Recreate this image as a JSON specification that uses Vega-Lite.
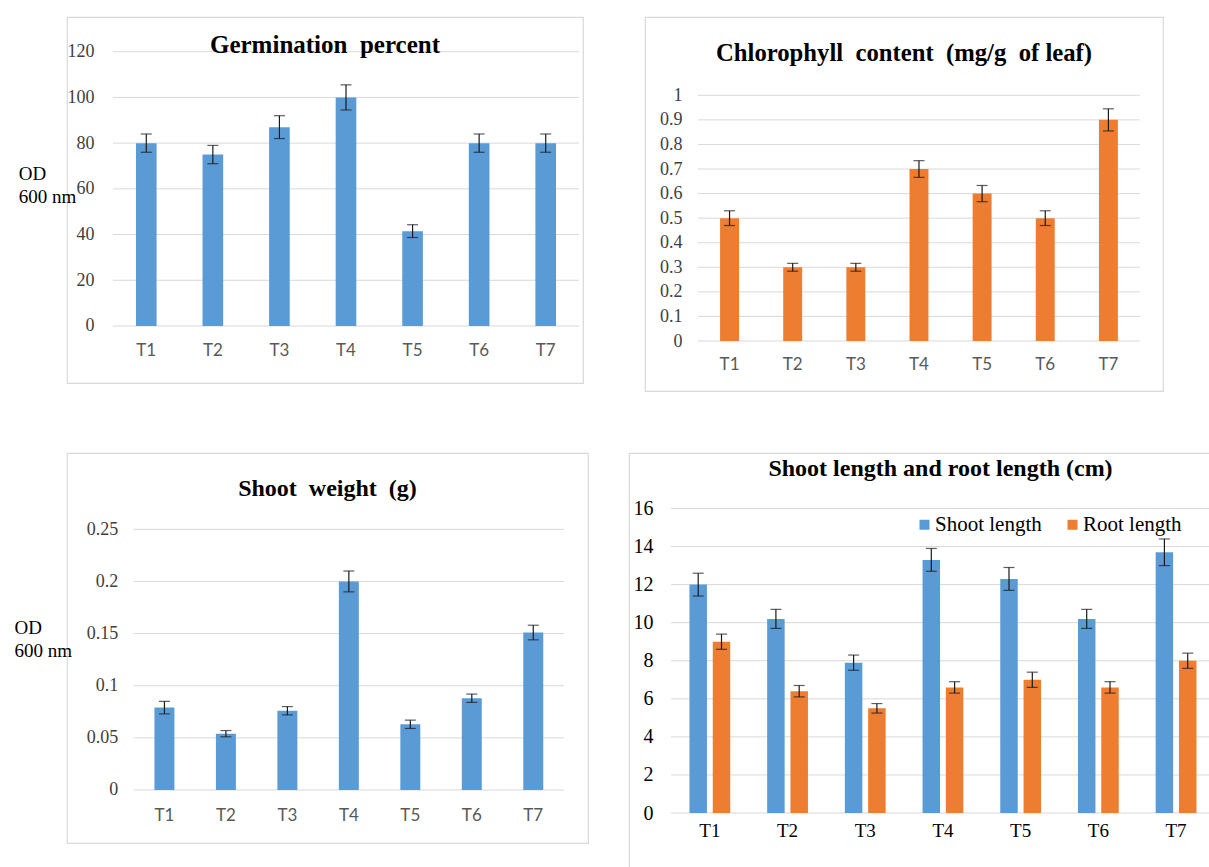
{
  "$schema": "https://vega.github.io/schema/vega-lite/v6.json",
  "background": "white",
  "padding": {"left": 13, "top": 16, "right": 0, "bottom": 0},
  "spacing": 60,
  "resolve": {"scale": {"color": "independent"}},
  "config": {
    "view": {"stroke": "#d9d9d9", "strokeWidth": 1.2},
    "axis": {"grid": false, "domain": false, "ticks": false, "tickSize": 0, "labelOverlap": false},
    "axisX": {"labelFont": "Lato", "labelFontSize": 17, "labelColor": "#595959", "labelAngle": 0, "labelBaseline": "middle", "labelOverlap": false},
    "axisY": {"labelFont": "Liberation Serif", "labelFontSize": 18, "labelColor": "#404040", "format": "~r", "labelOverlap": false},
    "title": {"font": "Liberation Serif", "fontSize": 24, "fontWeight": "bold", "color": "black", "anchor": "middle", "frame": "group", "baseline": "middle"}
  },
  "datasets": {
    "germ": [
      {"t": "T1", "v": 80, "e": 4},
      {"t": "T2", "v": 75, "e": 4},
      {"t": "T3", "v": 87, "e": 5},
      {"t": "T4", "v": 100, "e": 5.5},
      {"t": "T5", "v": 41.5, "e": 2.8},
      {"t": "T6", "v": 80, "e": 4},
      {"t": "T7", "v": 80, "e": 4}
    ],
    "chl": [
      {"t": "T1", "v": 0.5, "e": 0.03},
      {"t": "T2", "v": 0.3, "e": 0.016},
      {"t": "T3", "v": 0.3, "e": 0.016},
      {"t": "T4", "v": 0.7, "e": 0.034},
      {"t": "T5", "v": 0.6, "e": 0.033},
      {"t": "T6", "v": 0.5, "e": 0.03},
      {"t": "T7", "v": 0.9, "e": 0.045}
    ],
    "sw": [
      {"t": "T1", "v": 0.079, "e": 0.006},
      {"t": "T2", "v": 0.054, "e": 0.003},
      {"t": "T3", "v": 0.076, "e": 0.004},
      {"t": "T4", "v": 0.2, "e": 0.01},
      {"t": "T5", "v": 0.063, "e": 0.004},
      {"t": "T6", "v": 0.088, "e": 0.004},
      {"t": "T7", "v": 0.151, "e": 0.007}
    ],
    "len": [
      {"t": "T1", "s": "Shoot length", "v": 12, "e": 0.6},
      {"t": "T1", "s": "Root length", "v": 9, "e": 0.4},
      {"t": "T2", "s": "Shoot length", "v": 10.2, "e": 0.5},
      {"t": "T2", "s": "Root length", "v": 6.4, "e": 0.3},
      {"t": "T3", "s": "Shoot length", "v": 7.9, "e": 0.4},
      {"t": "T3", "s": "Root length", "v": 5.5, "e": 0.25},
      {"t": "T4", "s": "Shoot length", "v": 13.3, "e": 0.6},
      {"t": "T4", "s": "Root length", "v": 6.6, "e": 0.3},
      {"t": "T5", "s": "Shoot length", "v": 12.3, "e": 0.6},
      {"t": "T5", "s": "Root length", "v": 7.0, "e": 0.4},
      {"t": "T6", "s": "Shoot length", "v": 10.2, "e": 0.5},
      {"t": "T6", "s": "Root length", "v": 6.6, "e": 0.3},
      {"t": "T7", "s": "Shoot length", "v": 13.7, "e": 0.7},
      {"t": "T7", "s": "Root length", "v": 8.0, "e": 0.4}
    ],
    "g1": [{"v": 0}, {"v": 20}, {"v": 40}, {"v": 60}, {"v": 80}, {"v": 100}, {"v": 120}],
    "g2": [{"v": 0}, {"v": 0.1}, {"v": 0.2}, {"v": 0.3}, {"v": 0.4}, {"v": 0.5}, {"v": 0.6}, {"v": 0.7}, {"v": 0.8}, {"v": 0.9}, {"v": 1}],
    "g3": [{"v": 0}, {"v": 0.05}, {"v": 0.1}, {"v": 0.15}, {"v": 0.2}, {"v": 0.25}],
    "g4": [{"v": 0}, {"v": 2}, {"v": 4}, {"v": 6}, {"v": 8}, {"v": 10}, {"v": 12}, {"v": 14}, {"v": 16}]
  },
  "vconcat": [
    {
      "hconcat": [
        {
          "width": 516, "height": 366,
          "title": {"text": "Germination\u00a0 percent", "offset": -41, "fontSize": 25},
          "layer": [
            {"data": {"name": "g1"}, "mark": {"type": "rule", "color": "#d9d9d9", "strokeWidth": 1},
             "encoding": {"y": {"field": "v", "type": "quantitative", "title": ["OD", "600 nm"]}, "x": {"datum": "T1", "bandPosition": 0, "title": null}, "x2": {"datum": "T7", "bandPosition": 1}}},
            {"data": {"name": "germ"}, "mark": {"type": "bar", "color": "#5b9bd5", "width": {"band": 0.31}},
             "encoding": {
               "x": {"field": "t", "type": "nominal", "title": null, "scale": {"paddingInner": 0, "paddingOuter": 0.3755, "align": 0.92}, "axis": {"offset": -57, "labelPadding": 24}},
               "y": {"field": "v", "type": "quantitative", "title": ["OD", "600 nm"], "scale": {"domain": [-24.94, 135.18], "nice": false, "zero": false},
                     "axis": {"values": [0, 20, 40, 60, 80, 100, 120], "tickCount": 20, "offset": -46, "labelPadding": 19, "titleAngle": 0, "titleAlign": "left", "titleBaseline": "top", "titleX": -94.7, "titleY": 147, "titleFont": "Liberation Serif", "titleFontSize": 19, "titleFontWeight": "normal", "titleColor": "black", "titleLineHeight": 23}}
             }},
            {"data": {"name": "germ"}, "mark": {"type": "errorbar", "color": "#1a1a1a", "thickness": 1.2, "ticks": {"size": 11}},
             "encoding": {"x": {"field": "t", "type": "nominal", "title": null}, "y": {"field": "v", "type": "quantitative", "title": ["OD", "600 nm"]}, "yError": {"field": "e"}}}
          ]
        },
        {
          "width": 518, "height": 374,
          "title": {"text": "Chlorophyll\u00a0 content\u00a0 (mg/g\u00a0 of leaf)", "offset": -49, "fontSize": 24.7},
          "layer": [
            {"data": {"name": "g2"}, "mark": {"type": "rule", "color": "#d9d9d9", "strokeWidth": 1},
             "encoding": {
               "y": {"field": "v", "type": "quantitative", "title": null, "scale": {"domain": [-0.2035, 1.3187], "nice": false, "zero": false},
                     "axis": {"values": [0, 0.1, 0.2, 0.3, 0.4, 0.5, 0.6, 0.7, 0.8, 0.9, 1], "tickCount": 20, "offset": -53, "labelPadding": 16}},
               "x": {"datum": "T1", "bandPosition": 0, "title": null}, "x2": {"datum": "T7", "bandPosition": 1}}},
            {"data": {"name": "chl"}, "mark": {"type": "bar", "color": "#ed7d31", "width": {"band": 0.3}},
             "encoding": {
               "x": {"field": "t", "type": "nominal", "title": null, "scale": {"paddingInner": 0, "paddingOuter": 0.6018, "align": 0.697}, "axis": {"offset": -50, "labelPadding": 23}},
               "y": {"field": "v", "type": "quantitative", "title": null}
             }},
            {"data": {"name": "chl"}, "mark": {"type": "errorbar", "color": "#1a1a1a", "thickness": 1.2, "ticks": {"size": 11}},
             "encoding": {"x": {"field": "t", "type": "nominal", "title": null}, "y": {"field": "v", "type": "quantitative", "title": null}, "yError": {"field": "e"}}}
          ]
        }
      ],
      "spacing": 62,
      "bounds": "flush"
    },
    {
      "hconcat": [
        {
          "width": 521, "height": 390,
          "title": {"text": "Shoot\u00a0 weight\u00a0 (g)", "offset": -47.7},
          "layer": [
            {"data": {"name": "g3"}, "mark": {"type": "rule", "color": "#d9d9d9", "strokeWidth": 1},
             "encoding": {"y": {"field": "v", "type": "quantitative", "title": ["OD", "600 nm"]}, "x": {"datum": "T1", "bandPosition": 0, "title": null}, "x2": {"datum": "T7", "bandPosition": 1}}},
            {"data": {"name": "sw"}, "mark": {"type": "bar", "color": "#5b9bd5", "width": {"band": 0.325}},
             "encoding": {
               "x": {"field": "t", "type": "nominal", "title": null, "scale": {"paddingInner": 0, "paddingOuter": 0.7377, "align": 0.7354}, "axis": {"offset": -53, "labelPadding": 25}},
               "y": {"field": "v", "type": "quantitative", "title": ["OD", "600 nm"], "scale": {"domain": [-0.05083, 0.32317], "nice": false, "zero": false},
                     "axis": {"values": [0, 0.05, 0.1, 0.15, 0.2, 0.25], "tickCount": 20, "offset": -66.7, "labelPadding": 16, "titleAngle": 0, "titleAlign": "left", "titleBaseline": "top", "titleX": -119.7, "titleY": 165, "titleFont": "Liberation Serif", "titleFontSize": 19, "titleFontWeight": "normal", "titleColor": "black", "titleLineHeight": 23}}
             }},
            {"data": {"name": "sw"}, "mark": {"type": "errorbar", "color": "#1a1a1a", "thickness": 1.2, "ticks": {"size": 11}},
             "encoding": {"x": {"field": "t", "type": "nominal", "title": null}, "y": {"field": "v", "type": "quantitative", "title": ["OD", "600 nm"]}, "yError": {"field": "e"}}}
          ]
        },
        {
          "width": 623, "height": 430,
          "title": {"text": "Shoot length and root length (cm)", "offset": -27.7},
          "layer": [
            {"data": {"name": "g4"}, "mark": {"type": "rule", "color": "#d9d9d9", "strokeWidth": 1},
             "encoding": {"y": {"field": "v", "type": "quantitative", "title": null}, "x": {"datum": "T1", "bandPosition": 0, "title": null}, "x2": {"datum": "T7", "bandPosition": 1}}},
            {"data": {"name": "len"}, "mark": {"type": "bar"},
             "encoding": {
               "x": {"field": "t", "type": "nominal", "title": null, "scale": {"paddingInner": 0, "paddingOuter": 0.509, "align": 0.531},
                     "axis": {"offset": -70, "labelPadding": 17, "labelFont": "Liberation Serif", "labelFontSize": 19, "labelColor": "black"}},
               "xOffset": {"field": "s", "type": "nominal", "sort": ["Shoot length", "Root length"], "scale": {"paddingInner": 0.249, "paddingOuter": 0.792}},
               "y": {"field": "v", "type": "quantitative", "title": null, "scale": {"domain": [-3.678, 18.916], "nice": false, "zero": false},
                     "axis": {"values": [0, 2, 4, 6, 8, 10, 12, 14, 16], "tickCount": 20, "offset": -42, "labelPadding": 18, "labelFont": "Liberation Serif", "labelFontSize": 20, "labelColor": "black"}},
               "color": {"field": "s", "type": "nominal", "sort": ["Shoot length", "Root length"],
                         "scale": {"domain": ["Shoot length", "Root length"], "range": ["#5b9bd5", "#ed7d31"]},
                         "legend": {"orient": "none", "legendX": 285, "legendY": 61, "direction": "horizontal", "title": null, "symbolType": "square", "symbolSize": 100, "symbolStrokeWidth": 0, "labelFont": "Liberation Serif", "labelFontSize": 21, "labelColor": "black", "columnPadding": 20, "labelOffset": 0}}
             }},
            {"data": {"name": "len"}, "mark": {"type": "errorbar", "color": "#1a1a1a", "thickness": 1.2, "ticks": {"size": 11}},
             "encoding": {"x": {"field": "t", "type": "nominal", "title": null}, "xOffset": {"field": "s", "type": "nominal", "sort": ["Shoot length", "Root length"]}, "y": {"field": "v", "type": "quantitative", "title": null}, "yError": {"field": "e"}}}
          ]
        }
      ],
      "spacing": 41,
      "bounds": "flush",
      "resolve": {"scale": {"color": "independent"}}
    }
  ]
}
